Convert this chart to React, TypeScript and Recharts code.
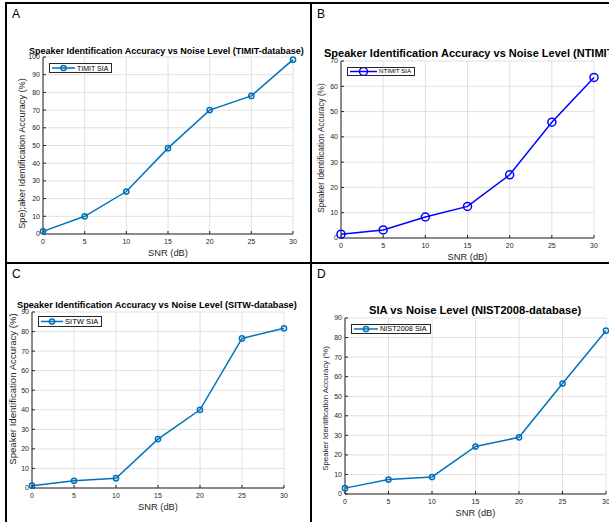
import React from 'react';
import { LineChart, Line, XAxis, YAxis, CartesianGrid, Legend } from 'recharts';

// SNR levels on the x axis (dB)
const snr = [0, 5, 10, 15, 20, 25, 30];
const snrTicks = [0, 5, 10, 15, 20, 25, 30];

// speaker identification accuracy (%) per database
const timitSia = [1.5, 10, 24, 48.5, 70, 78, 98.5];
const ntimitSia = [1.5, 3.2, 8.3, 12.5, 25, 45.8, 63.5];
const sitwSia = [1.2, 3.7, 5, 25, 40, 76.5, 81.7];
const nist2008Sia = [3, 7.4, 8.7, 24.3, 29, 56.5, 83.5];

const ticks100 = [0, 10, 20, 30, 40, 50, 60, 70, 80, 90, 100];
const ticks70 = [0, 10, 20, 30, 40, 50, 60, 70];
const ticks90 = [0, 10, 20, 30, 40, 50, 60, 70, 80, 90];

const FONT = '"Liberation Sans", Arial, Helvetica, sans-serif';
const AXIS = '#262626';

type Panel = {
  letter: string;
  letterPos: [number, number];
  title: string;
  titleLeft: number;
  titleY: number;
  titleSize: number;
  name: string;
  values: number[];
  yTicks: number[];
  color: string;
  yLabel: string;
  yLabelX: number;
  yLabelDy: number;
  yLabelSize: number;
  rect: { l: number; t: number; r: number; b: number };
  dotR: number;
  legendTop: number;
  legendLine: number;
  legendFont: number;
  legendH: number;
};

const panels: Panel[] = [
  {
    letter: 'A', letterPos: [12, 8],
    title: 'Speaker Identification Accuracy vs Noise Level (TIMIT-database)',
    titleLeft: 29, titleY: 51.5, titleSize: 9,
    name: 'TIMIT SIA', values: timitSia, yTicks: ticks100, color: '#0072BD',
    yLabel: 'Spe);aker Identification Accuracy (%)', yLabelX: 22, yLabelDy: 8, yLabelSize: 9.2,
    rect: { l: 43, t: 57, r: 293, b: 234 }, dotR: 2.6,
    legendTop: 6, legendLine: 23, legendFont: 7, legendH: 10,
  },
  {
    letter: 'B', letterPos: [317, 8],
    title: 'Speaker Identification Accuracy vs Noise Level (NTIMIT-database)',
    titleLeft: 324, titleY: 53, titleSize: 11,
    name: 'NTIMIT SIA', values: ntimitSia, yTicks: ticks70, color: '#0000FF',
    yLabel: 'Speaker Identification Accuracy (%)', yLabelX: 321, yLabelDy: -1.5, yLabelSize: 8.2,
    rect: { l: 341, t: 61, r: 594, b: 238 }, dotR: 4,
    legendTop: 6, legendLine: 27, legendFont: 6.2, legendH: 9,
  },
  {
    letter: 'C', letterPos: [12, 268],
    title: 'Speaker Identification Accuracy vs Noise Level (SITW-database)',
    titleLeft: 17, titleY: 305.7, titleSize: 9.2,
    name: 'SITW SIA', values: sitwSia, yTicks: ticks90, color: '#0072BD',
    yLabel: 'Speaker Identification Accuracy (%)', yLabelX: 13, yLabelDy: -11, yLabelSize: 9.6,
    rect: { l: 32, t: 312, r: 284, b: 488 }, dotR: 2.6,
    legendTop: 4, legendLine: 22, legendFont: 7.6, legendH: 11,
  },
  {
    letter: 'D', letterPos: [317, 268],
    title: 'SIA vs Noise Level (NIST2008-database)',
    titleLeft: 369, titleY: 310.7, titleSize: 11.2,
    name: 'NIST2008 SIA', values: nist2008Sia, yTicks: ticks90, color: '#0072BD',
    yLabel: 'Speaker Identification Accuracy (%)', yLabelX: 325, yLabelDy: 2.5, yLabelSize: 7.9,
    rect: { l: 345, t: 318, r: 606, b: 494 }, dotR: 2.6,
    legendTop: 6, legendLine: 24, legendFont: 7.3, legendH: 10,
  },
];

function LegendBox({ p }: { p: Panel }) {
  const h = p.legendH;
  return (
    <div
      style={{
        display: 'flex', alignItems: 'center', background: '#fff', border: `1px solid ${AXIS}`,
        height: h, padding: '0 3px 0 2px', fontFamily: FONT, fontSize: p.legendFont, color: '#000',
        lineHeight: 1, whiteSpace: 'nowrap', boxSizing: 'border-box',
      }}
    >
      <svg width={p.legendLine} height={h - 2} style={{ display: 'block' }}>
        <line x1={0} y1={(h - 2) / 2} x2={p.legendLine} y2={(h - 2) / 2} stroke={p.color} strokeWidth={1.5} />
        <circle cx={p.legendLine / 2} cy={(h - 2) / 2} r={p.dotR} fill="none" stroke={p.color} strokeWidth={1.5} />
      </svg>
      <span style={{ marginLeft: 2 }}>{p.name}</span>
    </div>
  );
}

function PanelChart({ p }: { p: Panel }) {
  const { l, t, r, b } = p.rect;
  const w = r - l + 50;
  const h = b - t + 55;
  const data = snr.map((x, i) => ({ snr: x, value: p.values[i] }));
  const yMax = p.yTicks[p.yTicks.length - 1];
  const tickStyle = { fontSize: 7, fill: AXIS, fontFamily: FONT };
  return (
    <>
      <div style={{ position: 'absolute', left: p.letterPos[0], top: p.letterPos[1], fontFamily: FONT, fontSize: 12, lineHeight: '12px', color: '#000' }}>
        {p.letter}
      </div>
      <div style={{ position: 'absolute', left: l - 40, top: t - 25, width: w, height: h }}>
        <LineChart width={w} height={h} data={data} margin={{ top: 25, right: 10, bottom: 0, left: 0 }}>
          <CartesianGrid stroke="#e0e0e0" strokeWidth={1} />
          <XAxis xAxisId="top" orientation="top" dataKey="snr" type="number" domain={[0, 30]} ticks={snrTicks}
            height={0} tick={false} tickSize={-3} axisLine={{ stroke: AXIS }} tickLine={{ stroke: AXIS }} />
          <YAxis yAxisId="right" orientation="right" type="number" domain={[0, yMax]} ticks={p.yTicks}
            width={0} tick={false} tickSize={-3} axisLine={{ stroke: AXIS }} tickLine={{ stroke: AXIS }} />
          <XAxis dataKey="snr" type="number" domain={[0, 30]} ticks={snrTicks} height={30}
            tickSize={-3} tickMargin={8} tick={tickStyle} axisLine={{ stroke: AXIS }} tickLine={{ stroke: AXIS }}
            label={{ value: 'SNR (dB)', position: 'insideTop', offset: 15, style: { fontSize: 9.3, fill: AXIS, fontFamily: FONT } }} />
          <YAxis type="number" domain={[0, yMax]} ticks={p.yTicks} width={40} interval={0}
            tickSize={-3} tickMargin={6} tick={tickStyle} axisLine={{ stroke: AXIS }} tickLine={{ stroke: AXIS }}
            label={{
              value: p.yLabel, angle: -90, position: 'insideLeft', offset: p.yLabelX - (l - 40), dy: p.yLabelDy,
              style: { textAnchor: 'middle', fontSize: p.yLabelSize, fill: AXIS, fontFamily: FONT },
            }} />
          <Legend layout="horizontal" verticalAlign="middle" align="center"
            wrapperStyle={{ left: 46, top: 25 + p.legendTop, width: 'auto' }}
            content={() => <LegendBox p={p} />} />
          <Line type="linear" dataKey="value" name={p.name} stroke={p.color} strokeWidth={1.5}
            dot={{ r: p.dotR, fill: 'none', stroke: p.color, strokeWidth: 1.5 }} activeDot={false}
            isAnimationActive={false} />
        </LineChart>
      </div>
      <div style={{
        position: 'absolute', left: p.titleLeft, top: p.titleY - p.titleSize / 2, fontFamily: FONT,
        fontWeight: 'bold', fontSize: p.titleSize, lineHeight: `${p.titleSize}px`, whiteSpace: 'nowrap', color: '#000',
      }}>
        {p.title}
      </div>
    </>
  );
}

export default function App() {
  return (
    <div style={{ position: 'absolute', left: 0, top: 0, width: 609, height: 522, overflow: 'hidden', background: '#fff' }}>
      {panels.map((p) => <PanelChart key={p.letter} p={p} />)}
      <div style={{ position: 'absolute', left: 5, top: 2, width: 604, height: 2, background: '#000' }} />
      <div style={{ position: 'absolute', left: 5, top: 2, width: 2, height: 520, background: '#000' }} />
      <div style={{ position: 'absolute', left: 310, top: 2, width: 2, height: 520, background: '#000' }} />
      <div style={{ position: 'absolute', left: 5, top: 262, width: 604, height: 2, background: '#000' }} />
    </div>
  );
}
